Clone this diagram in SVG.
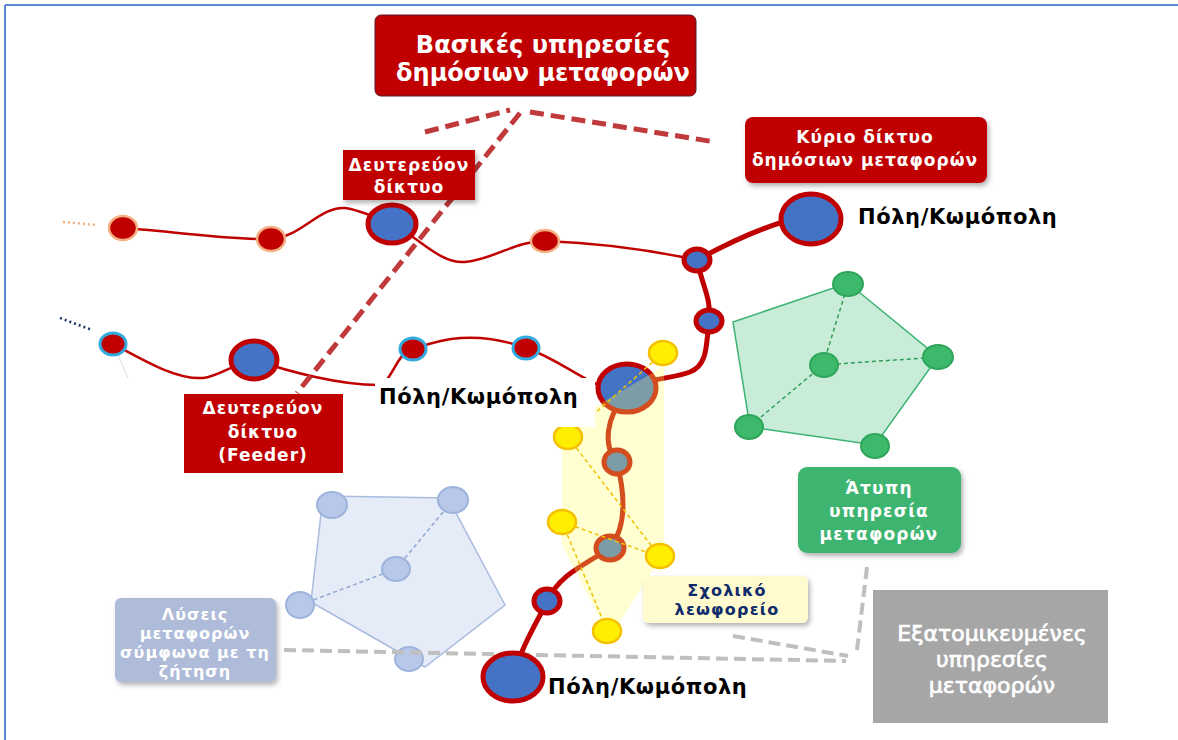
<svg xmlns="http://www.w3.org/2000/svg" width="1178" height="740" viewBox="0 0 1178 740">
<style>
.t{font-family:"DejaVu Sans","Liberation Sans",sans-serif;font-weight:bold;text-anchor:middle}
.w{fill:#ffffff}
.city{font-family:"DejaVu Sans","Liberation Sans",sans-serif;font-weight:bold;font-size:21px;letter-spacing:0.6px;fill:#000000}
.thin{fill:none;stroke:#c00000;stroke-width:2.5}
.main{fill:none;stroke:#c00000;stroke-width:5}
.redDash{fill:none;stroke:#c0393b;stroke-width:5;stroke-dasharray:14 7}
.grayDash{fill:none;stroke:#bfbfbf;stroke-width:4;stroke-dasharray:12 6}
.yDash{fill:none;stroke:#f0c000;stroke-width:1.5;stroke-dasharray:4 3}
.gDash{fill:none;stroke:#2e9e58;stroke-width:1.5;stroke-dasharray:4 3}
.bDash{fill:none;stroke:#8fa6d2;stroke-width:1.5;stroke-dasharray:4 3}
.nRedO{fill:#c00000;stroke:#f4b183;stroke-width:2.5}
.nRedC{fill:#c00000;stroke:#33aadd;stroke-width:3}
.nBig{fill:#4472c4;stroke:#c00000;stroke-width:5}
.nSm{fill:#4472c4;stroke:#c00000;stroke-width:5}
.nY{fill:#ffee00;stroke:#f5c000;stroke-width:2.5}
.nG{fill:#3cb96a;stroke:#2ea55a;stroke-width:2}
.nB{fill:#b7c8e8;stroke:#9db3dc;stroke-width:2}
.pers{font-family:"DejaVu Sans",sans-serif;font-size:22px;fill:#ffffff;stroke:#ffffff;stroke-width:0.7;text-anchor:middle}
</style>
<defs>
<filter id="sh" x="-10%" y="-10%" width="130%" height="140%">
<feDropShadow dx="2" dy="3" stdDeviation="2.5" flood-color="#000000" flood-opacity="0.3"/>
</filter>
</defs>
<rect width="1178" height="740" fill="#ffffff"/>
<g id="frame">
<line x1="5" y1="5" x2="1178" y2="5" stroke="#5b8bd0" stroke-width="2"/>
<line x1="5" y1="5" x2="5" y2="740" stroke="#5b8bd0" stroke-width="2"/>
</g>

<g id="demand-area">
<polygon points="323,496 448,498 505,605 425,667 311,602" fill="#e6ecf7" stroke="#a9bce0" stroke-width="1.5"/>
<path class="bDash" d="M396,569 L453,500 M396,569 L300,605"/>
<ellipse class="nB" cx="332" cy="505" rx="15" ry="13"/>
<ellipse class="nB" cx="453" cy="500" rx="15" ry="13"/>
<ellipse class="nB" cx="396" cy="569" rx="14" ry="12"/>
<ellipse class="nB" cx="300" cy="605" rx="14" ry="13"/>
<ellipse class="nB" cx="409" cy="659" rx="14" ry="12"/>
</g>

<g id="informal-area">
<polygon points="733,322 848,283 938,357 875,445 750,427" fill="#c8ecd7" stroke="#3cb371" stroke-width="1.5"/>
<path class="gDash" d="M823,365 L848,284 M823,365 L938,357 M823,365 L749,427"/>
<ellipse class="nG" cx="848" cy="284" rx="15" ry="12"/>
<ellipse class="nG" cx="938" cy="357" rx="15" ry="12"/>
<ellipse class="nG" cx="875" cy="446" rx="14" ry="12"/>
<ellipse class="nG" cx="749" cy="427" rx="14" ry="12"/>
<ellipse class="nG" cx="824" cy="365" rx="14" ry="12"/>
</g>

<g id="connectors">
<path d="M63,222 L97,225" fill="none" stroke="#f4b183" stroke-width="2.5" stroke-dasharray="2 3"/>
<path d="M60,318 L92,330" fill="none" stroke="#1f3864" stroke-width="2.5" stroke-dasharray="2 3"/>
<path d="M113,344 L128,378" fill="none" stroke="#dddddd" stroke-width="1"/>
<path class="thin" d="M123,228 C180,232 230,240 271,239 C300,238 320,206 345,208 C360,210 372,216 392,224 C420,238 440,264 465,262 C495,259 515,241 545,241 C600,243 650,250 697,260"/>
<path class="thin" d="M113,344 C140,358 175,380 203,378 C220,376 232,364 255,360 C290,372 340,385 378,385 C392,384 396,352 413,349 C435,342 470,328 526,348 C555,358 570,372 600,386"/>
<path class="main" d="M697,260 C730,242 760,228 790,220"/>
<path class="main" d="M697,260 C702,285 712,300 709,321"/>
<path class="main" d="M709,321 C706,345 708,365 690,372 C680,376 668,377 655,380"/>
<path class="main" d="M627,390 C605,420 603,445 617,463"/>
<path class="main" d="M617,463 C624,490 628,525 610,548"/>
<path class="main" d="M610,548 C585,565 558,575 547,602"/>
<path class="main" d="M547,602 C535,625 520,650 513,678"/>
<path class="redDash" d="M425,132 L510,110"/>
<path class="redDash" d="M530,112 L715,142"/>
<path class="redDash" d="M520,113 L297,393"/>
<path class="grayDash" d="M284,650 L846,661"/>
<path class="grayDash" d="M733,636 L848,656"/>
<path class="grayDash" d="M867,567 L857,650"/>
</g>

<g id="nodes-upper">
<ellipse class="nRedO" cx="123" cy="228" rx="14" ry="12"/>
<ellipse class="nRedO" cx="271" cy="239" rx="14" ry="12"/>
<ellipse class="nBig" cx="392" cy="224" rx="24" ry="19"/>
<ellipse class="nRedO" cx="545" cy="241" rx="14" ry="11"/>
</g>
<g id="nodes-feeder">
<ellipse class="nRedC" cx="113" cy="344" rx="13" ry="11"/>
<ellipse class="nBig" cx="254" cy="360" rx="23" ry="19"/>
<ellipse class="nRedC" cx="413" cy="349" rx="13" ry="11"/>
<ellipse class="nRedC" cx="526" cy="348" rx="13" ry="11"/>
</g>
<g id="nodes-main">
<ellipse class="nBig" cx="811" cy="219" rx="30" ry="25"/>
<ellipse class="nSm" cx="697" cy="260" rx="13" ry="11"/>
<ellipse class="nSm" cx="709" cy="321" rx="13" ry="11"/>
<ellipse class="nBig" cx="627" cy="388" rx="29" ry="24"/>
<ellipse class="nSm" cx="617" cy="462" rx="13" ry="12"/>
<ellipse class="nSm" cx="610" cy="548" rx="14" ry="12"/>
<ellipse class="nSm" cx="547" cy="601" rx="13" ry="12"/>
<ellipse class="nBig" cx="513" cy="677" rx="30" ry="24"/>
</g>

<g id="school-area">
<polygon points="664,366 664,553 617,626 604,626 562,545 562,428 595,407" fill="#ffff66" fill-opacity="0.3"/>
<path class="yDash" d="M663,353 L568,437 M568,437 L660,557 M562,522 L660,557 M562,522 L607,630"/>
<ellipse class="nY" cx="663" cy="353" rx="14" ry="12"/>
<ellipse class="nY" cx="568" cy="437" rx="14" ry="12"/>
<ellipse class="nY" cx="562" cy="522" rx="14" ry="12"/>
<ellipse class="nY" cx="660" cy="556" rx="14" ry="12"/>
<ellipse class="nY" cx="607" cy="631" rx="14" ry="12"/>
</g>

<g id="label-city-mid">
<rect x="375" y="378" width="220" height="49" fill="#ffffff"/>
<text class="city" x="379" y="404">Πόλη/Κωμόπολη</text>
</g>
<g id="label-city-top"><text class="city" x="858" y="224">Πόλη/Κωμόπολη</text></g>
<g id="label-city-bottom"><text class="city" x="548" y="694">Πόλη/Κωμόπολη</text></g>

<g id="box-basic">
<rect x="375" y="15" width="321" height="81" rx="6" fill="#c00000" stroke="#5a1a2a" stroke-width="1"/>
<text class="t w" x="543" y="53" font-size="24">Βασικές υπηρεσίες</text>
<text class="t w" x="543" y="81" font-size="24">δημόσιων μεταφορών</text>
</g>
<g id="box-secondary">
<rect x="343" y="150" width="132" height="50" fill="#c00000" filter="url(#sh)"/>
<text class="t w" x="409" y="171" font-size="17" letter-spacing="1">Δευτερεύον</text>
<text class="t w" x="409" y="193" font-size="17" letter-spacing="1">δίκτυο</text>
</g>
<g id="box-main">
<rect x="745" y="117" width="242" height="66" rx="8" fill="#c00000" filter="url(#sh)"/>
<text class="t w" x="865" y="143" font-size="17" letter-spacing="1">Κύριο δίκτυο</text>
<text class="t w" x="865" y="166" font-size="17" letter-spacing="1">δημόσιων μεταφορών</text>
</g>
<g id="box-feeder">
<rect x="184" y="394" width="159" height="79" fill="#c00000"/>
<text class="t w" x="263" y="414" font-size="17" letter-spacing="1">Δευτερεύον</text>
<text class="t w" x="263" y="438" font-size="17" letter-spacing="1">δίκτυο</text>
<text class="t w" x="263" y="461" font-size="17" letter-spacing="1">(Feeder)</text>
</g>
<g id="box-informal">
<rect x="798" y="467" width="163" height="86" rx="9" fill="#3db56f" filter="url(#sh)"/>
<text class="t w" x="879" y="494" font-size="17" letter-spacing="1.2">Άτυπη</text>
<text class="t w" x="879" y="517" font-size="17" letter-spacing="1.2">υπηρεσία</text>
<text class="t w" x="879" y="540" font-size="17" letter-spacing="1.2">μεταφορών</text>
</g>
<g id="box-school">
<rect x="643" y="576" width="165" height="47" rx="6" fill="#fffbcf" filter="url(#sh)"/>
<text class="t" x="727" y="596" font-size="16" letter-spacing="1.2" fill="#0e2a6b">Σχολικό</text>
<text class="t" x="727" y="615" font-size="16" letter-spacing="1.2" fill="#0e2a6b">λεωφορείο</text>
</g>
<g id="box-demand">
<rect x="115" y="598" width="161" height="84" rx="6" fill="#aebbd9" filter="url(#sh)"/>
<text class="t w" x="195" y="620" font-size="16" letter-spacing="1">Λύσεις</text>
<text class="t w" x="195" y="639" font-size="16" letter-spacing="1">μεταφορών</text>
<text class="t w" x="195" y="658" font-size="16" letter-spacing="1">σύμφωνα με τη</text>
<text class="t w" x="195" y="677" font-size="16" letter-spacing="1">ζήτηση</text>
</g>
<g id="box-personal">
<rect x="873" y="590" width="235" height="133" fill="#a6a6a6"/>
<text class="pers" x="992" y="641">Εξατομικευμένες</text>
<text class="pers" x="992" y="667">υπηρεσίες</text>
<text class="pers" x="992" y="693">μεταφορών</text>
</g>
</svg>
